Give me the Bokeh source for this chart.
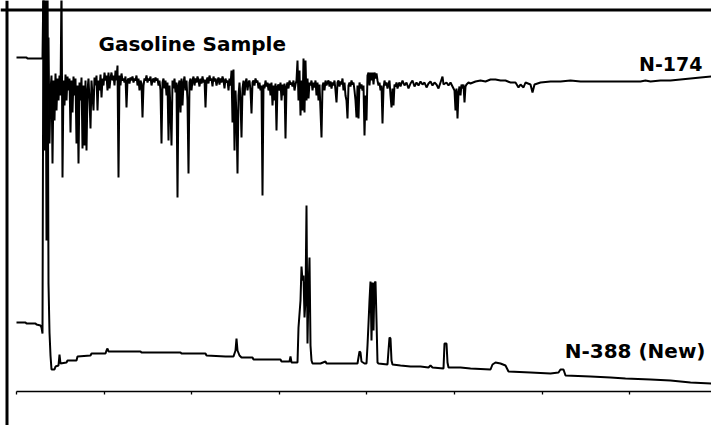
from bokeh.plotting import figure
from bokeh.models import Range1d, Span, Label
from bokeh.embed import file_html
from bokeh.resources import INLINE

# ---------------- data (scan number vs. detector response) ----------------
# N-174 trace: lead-in, densely sampled region (one sample per scan), tail
n174_lead_scan = [0, 10, 11, 25]
n174_lead_resp = [335, 335, 334, 334]

n174_dense_start = 26
n174_dense_resp = [
    334, 412, 292, 322, 272, 312, 355, 249, 302, 317, 229, 312, 272, 319, 282, 314, 292, 317, 297, 407,
    215, 312, 287, 318, 292, 316, 302, 314, 260, 312, 280, 316, 297, 314, 249, 307, 229, 310, 292, 315,
    244, 307, 247, 312, 242, 302, 314, 292, 264, 312, 297, 282, 315, 307, 317, 282, 312, 302, 318, 295,
    314, 307, 320, 312, 317, 302, 320, 304, 314, 320, 312, 317, 307, 322, 312, 327, 215, 317, 307, 319,
    312, 314, 310, 316, 285, 312, 314, 309, 315, 312, 316, 310, 314, 312, 317, 307, 314, 302, 312, 309,
    275, 307, 314, 312, 317, 310, 314, 312, 316, 307, 312, 314, 310, 315, 312, 314, 307, 312, 302, 249,
    310, 314, 304, 312, 297, 310, 252, 307, 282, 247, 312, 304, 314, 300, 310, 195, 307, 312, 280, 314,
    287, 310, 316, 302, 312, 292, 219, 310, 314, 302, 312, 316, 307, 314, 310, 316, 312, 306, 314, 309,
    316, 310, 313, 285, 312, 315, 309, 317, 312, 314, 306, 316, 311, 314, 307, 312, 315, 308, 314, 310,
    316, 312, 304, 314, 310, 312, 302, 314, 307, 322, 270, 323, 242, 302, 277, 219, 297, 310, 292, 255,
    304, 312, 297, 310, 314, 302, 310, 312, 302, 279, 310, 312, 307, 314, 310, 312, 304, 310, 302, 307,
    197, 308, 304, 312, 306, 310, 302, 309, 297, 310, 287, 307, 292, 309, 262, 306, 308, 302, 310, 292,
    308, 297, 309, 254, 306, 310, 304, 312, 308, 310, 306, 312, 302, 308, 312, 332, 292, 322, 277, 312,
    282, 334, 280, 332, 292, 314, 294, 310, 307, 312, 302, 310, 305, 312, 297, 310, 292, 308, 282, 255,
    307, 310, 302, 312, 307, 310, 312, 306, 311, 304, 310, 307, 312, 302, 290, 310, 312, 306, 311, 308,
    314, 302, 310, 297, 292, 274, 307, 310, 306, 312, 308, 310, 302, 292, 275, 307, 274, 310, 304, 308,
    302, 307, 257, 297, 272, 317, 320, 307, 320, 312, 320, 308, 320, 314, 319, 312, 307, 310, 302, 307,
    269, 304, 312, 307, 310, 304, 308, 312, 297, 285, 304, 287, 308, 306, 310, 304, 308, 310,
]

n174_tail_scan = [
    384, 386, 388, 390, 392, 394, 396, 398, 400, 402, 404, 406, 408, 410, 412, 414, 416, 418, 420, 422,
    424, 426, 427, 430, 432, 434, 436, 438, 439, 440, 441, 442, 443, 444, 445, 446, 447, 448, 449, 450,
    452, 454, 459, 464, 469, 474, 479, 484, 489, 494, 499, 502, 504, 507, 509, 514, 516, 518, 521, 524,
    534, 544, 554, 564, 584, 604, 624, 629, 634, 644, 654, 664, 674, 684, 695,
]
n174_tail_resp = [
    306, 312, 307, 310, 304, 309, 312, 306, 310, 307, 311, 308, 310, 305, 309, 311, 307, 310, 308, 304,
    310, 316, 308, 310, 307, 310, 306, 302, 282, 304, 274, 300, 306, 297, 308, 304, 308, 290, 306, 308,
    310, 309, 311, 312, 311, 313, 313, 312, 312, 310, 310, 305, 308, 305, 310, 308, 300, 308, 309, 310,
    311, 311, 312, 311, 311, 311, 311, 312, 311, 312, 312, 313, 314, 315, 316,
]

# N-388 (New) trace
n388_scan = [
    0, 9, 10, 19, 20, 24, 25, 26, 27, 28, 29, 30, 31, 32, 33, 34, 35, 38, 39, 42,
    43, 44, 50, 51, 60, 61, 74, 75, 89, 90, 91, 92, 124, 125, 164, 165, 189, 190, 209, 217,
    219, 220, 221, 223, 225, 236, 237, 264, 265, 273, 274, 275, 281, 282, 284, 285, 286, 287, 288, 289,
    290, 291, 292, 293, 294, 295, 296, 304, 309, 310, 341, 342, 343, 344, 345, 348, 350, 351, 352, 353,
    354, 355, 356, 357, 358, 359, 360, 361, 362, 371, 372, 373, 374, 375, 376, 384, 394, 404, 412, 414,
    416, 427, 428, 430, 431, 432, 444, 454, 474, 476, 479, 484, 489, 492, 514, 534, 542, 544, 547, 549,
    574, 594, 609, 634, 654, 674, 695,
]
n388_resp = [
    70, 70, 69, 69, 68, 67, 65, 59, 432, 242, 432, 152, 432, 109, 60, 37, 23, 23, 26, 27,
    38, 29, 30, 32, 32, 36, 37, 39, 39, 42, 44, 41, 41, 40, 40, 39, 39, 37, 36, 36,
    42, 54, 42, 37, 35, 35, 33, 33, 31, 31, 36, 30, 30, 65, 92, 126, 112, 117, 75, 92,
    187, 49, 102, 135, 47, 32, 29, 29, 31, 29, 29, 35, 41, 40, 31, 29, 29, 47, 69, 92,
    111, 52, 110, 62, 109, 111, 72, 30, 29, 28, 42, 55, 54, 32, 28, 27, 26, 26, 25, 27,
    25, 24, 49, 49, 30, 25, 25, 24, 23, 28, 30, 29, 27, 21, 20, 19, 20, 23, 23, 17,
    16, 15, 14, 13, 12, 10, 9,
]

# time-axis tick positions (scan numbers)
tick_scan = [0, 88, 175, 263, 350, 438, 526, 613]
axis_end_scan = 695

trace_labels = ["N-174", "N-388 (New)"]
title_text = "Gasoline Sample"

# ---------------- build ----------------
n174_scan = (n174_lead_scan
             + list(range(n174_dense_start, n174_dense_start + len(n174_dense_resp)))
             + n174_tail_scan)
n174_resp = n174_lead_resp + n174_dense_resp + n174_tail_resp

p = figure(width=711, height=425,
           x_range=Range1d(-16, 695), y_range=Range1d(-33, 392),
           output_backend="svg", toolbar_location=None,
           x_axis_location=None, y_axis_location=None,
           min_border=0, outline_line_color=None,
           background_fill_color="white", border_fill_color="white")
p.grid.visible = False

p.line(n174_scan, n174_resp, line_color="black", line_width=2)
p.line(n388_scan, n388_resp, line_color="black", line_width=2)

# time axis drawn inside the plot
p.segment(x0=[tick_scan[0]], y0=[1], x1=[axis_end_scan], y1=[1],
          line_color="black", line_width=1.5)
p.segment(x0=tick_scan, y0=[1] * len(tick_scan), x1=tick_scan, y1=[-2] * len(tick_scan),
          line_color="black", line_width=1.3)

# frame lines (left and top)
p.add_layout(Span(location=-9.5, dimension="height", line_color="black", line_width=3))
p.add_layout(Span(location=382.5, dimension="width", line_color="black", line_width=3))

font = "DejaVu Sans"
p.add_layout(Label(x=82, y=349, text=title_text, text_font=font, text_font_style="bold",
                   text_font_size="20px", text_align="left", text_baseline="alphabetic",
                   text_color="black"))
p.add_layout(Label(x=686, y=329, text=trace_labels[0], text_font=font, text_font_style="bold",
                   text_font_size="19px", text_align="right", text_baseline="alphabetic",
                   text_color="black"))
p.add_layout(Label(x=689, y=42, text=trace_labels[1], text_font=font, text_font_style="bold",
                   text_font_size="20px", text_align="right", text_baseline="alphabetic",
                   text_color="black"))

open("out.html", "w").write(file_html(p, INLINE))
